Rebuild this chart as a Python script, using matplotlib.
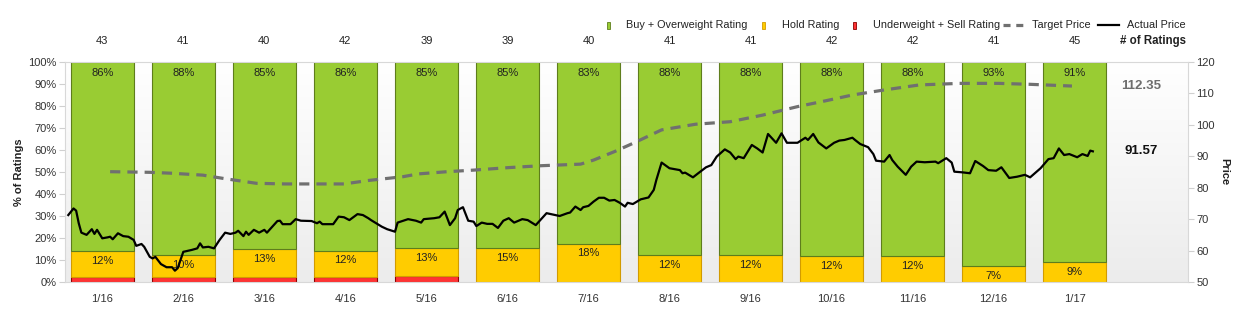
import numpy as np
import pandas as pd
import matplotlib
matplotlib.use("Agg")
import matplotlib.pyplot as plt
from matplotlib.patches import Rectangle
from matplotlib.lines import Line2D
from matplotlib.transforms import blended_transform_factory

plt.rcParams['font.family'] = ['Liberation Sans', 'DejaVu Sans']

months = ['1/16', '2/16', '3/16', '4/16', '5/16', '6/16', '7/16',
          '8/16', '9/16', '10/16', '11/16', '12/16', '1/17']
num_ratings = [43, 41, 40, 42, 39, 39, 40, 41, 41, 42, 42, 41, 45]
buy_count = [37, 36, 34, 36, 33, 33, 33, 36, 36, 37, 37, 38, 41]
hold_count = [5, 4, 5, 5, 5, 6, 7, 5, 5, 5, 5, 3, 4]
sell_count = [1, 1, 1, 1, 1, 0, 0, 0, 0, 0, 0, 0, 0]

price_dates = [
    '2016-01-03', '2016-01-05', '2016-01-06', '2016-01-07', '2016-01-08', '2016-01-10',
    '2016-01-12', '2016-01-13', '2016-01-14', '2016-01-16', '2016-01-18', '2016-01-19',
    '2016-01-20', '2016-01-22', '2016-01-24', '2016-01-26', '2016-01-28', '2016-01-29',
    '2016-01-31', '2016-02-01', '2016-02-03', '2016-02-04', '2016-02-05', '2016-02-07',
    '2016-02-09', '2016-02-11', '2016-02-12', '2016-02-13', '2016-02-15', '2016-02-18',
    '2016-02-20', '2016-02-21', '2016-02-22', '2016-02-24', '2016-02-26', '2016-02-28',
    '2016-03-01', '2016-03-03', '2016-03-05', '2016-03-06', '2016-03-08', '2016-03-09',
    '2016-03-10', '2016-03-12', '2016-03-14', '2016-03-16', '2016-03-17', '2016-03-21',
    '2016-03-22', '2016-03-23', '2016-03-26', '2016-03-28', '2016-03-30', '2016-04-03',
    '2016-04-05', '2016-04-06', '2016-04-07', '2016-04-11', '2016-04-13', '2016-04-15',
    '2016-04-17', '2016-04-20', '2016-04-22', '2016-04-24', '2016-04-25', '2016-04-29',
    '2016-05-01', '2016-05-04', '2016-05-05', '2016-05-09', '2016-05-12', '2016-05-14',
    '2016-05-15', '2016-05-19', '2016-05-21', '2016-05-23', '2016-05-24', '2016-05-25',
    '2016-05-27', '2016-05-28', '2016-05-30', '2016-06-01', '2016-06-03', '2016-06-04',
    '2016-06-06', '2016-06-08', '2016-06-10', '2016-06-12', '2016-06-14', '2016-06-16',
    '2016-06-18', '2016-06-21', '2016-06-23', '2016-06-26', '2016-06-30', '2016-07-05',
    '2016-07-08', '2016-07-09', '2016-07-11', '2016-07-13', '2016-07-14', '2016-07-16',
    '2016-07-18', '2016-07-20', '2016-07-22', '2016-07-24', '2016-07-26', '2016-07-28',
    '2016-07-30', '2016-07-31', '2016-08-02', '2016-08-05', '2016-08-08', '2016-08-10',
    '2016-08-11', '2016-08-13', '2016-08-16', '2016-08-20', '2016-08-21', '2016-08-22',
    '2016-08-25', '2016-08-27', '2016-08-30', '2016-09-01', '2016-09-03', '2016-09-06',
    '2016-09-08', '2016-09-10', '2016-09-11', '2016-09-13', '2016-09-16', '2016-09-18',
    '2016-09-20', '2016-09-22', '2016-09-25', '2016-09-27', '2016-09-29', '2016-10-03',
    '2016-10-06', '2016-10-07', '2016-10-09', '2016-10-11', '2016-10-14', '2016-10-17',
    '2016-10-19', '2016-10-21', '2016-10-24', '2016-10-25', '2016-10-27', '2016-10-30',
    '2016-11-01', '2016-11-02', '2016-11-05', '2016-11-07', '2016-11-08', '2016-11-10',
    '2016-11-13', '2016-11-15', '2016-11-17', '2016-11-20', '2016-11-24', '2016-11-25',
    '2016-11-28', '2016-11-30', '2016-12-01', '2016-12-04', '2016-12-07', '2016-12-09',
    '2016-12-12', '2016-12-14', '2016-12-17', '2016-12-19', '2016-12-22', '2016-12-25',
    '2016-12-28', '2016-12-30', '2017-01-03', '2017-01-06', '2017-01-08', '2017-01-10',
    '2017-01-12', '2017-01-14', '2017-01-17', '2017-01-19', '2017-01-21', '2017-01-22',
    '2017-01-23',
]
actual_price = [
    71.3, 73.4, 72.7, 68.7, 65.7, 65.0, 66.8, 65.3, 66.6, 63.9, 64.2, 64.4,
    63.6, 65.5, 64.6, 64.4, 63.4, 61.5, 62.1, 61.2, 58.0, 57.5, 58.0, 55.7,
    54.7, 54.7, 53.6, 54.4, 59.6, 60.2, 60.7, 62.3, 61.0, 61.2, 60.7, 63.4,
    65.7, 65.3, 65.7, 66.3, 64.6, 66.0, 65.0, 66.6, 65.7, 66.6, 65.7, 69.4,
    69.5, 68.4, 68.4, 70.0, 69.5, 69.4, 68.7, 69.2, 68.4, 68.4, 70.8, 70.6,
    69.7, 71.6, 71.3, 70.3, 69.7, 67.6, 66.8, 66.0, 68.9, 70.0, 69.5, 68.9,
    70.0, 70.3, 70.6, 72.4, 70.3, 68.1, 70.3, 72.9, 73.8, 69.5, 69.2, 67.8,
    68.9, 68.5, 68.5, 67.2, 69.5, 70.3, 68.9, 70.0, 69.7, 68.1, 71.9, 71.0,
    71.9, 72.1, 74.0, 72.9, 73.8, 74.2, 75.6, 76.8, 76.8, 75.9, 76.1, 75.2,
    74.0, 75.2, 74.8, 76.3, 76.9, 79.3, 82.5, 88.0, 86.2, 85.6, 84.6, 84.8,
    83.3, 84.6, 86.5, 87.2, 89.9, 92.2, 91.2, 89.1, 89.9, 89.4, 93.6, 92.5,
    91.2, 97.1, 94.3, 97.3, 94.3, 94.3, 95.9, 95.2, 97.1, 94.4, 92.5, 94.3,
    95.0, 95.2, 95.9, 95.2, 93.9, 92.9, 90.7, 88.6, 88.3, 90.4, 88.8, 86.7,
    84.1, 86.7, 88.3, 88.1, 88.3, 87.8, 89.4, 88.0, 85.1, 84.9, 84.6, 88.5,
    86.9, 85.6, 85.4, 86.5, 83.1, 83.5, 84.1, 83.3, 86.2, 89.1, 89.4, 92.5,
    90.4, 90.7, 89.7, 90.7, 90.1, 91.8, 91.57,
]

target_dates = [
    '2016-01-19', '2016-02-03', '2016-02-11', '2016-02-22', '2016-02-29', '2016-03-13',
    '2016-03-24', '2016-04-06', '2016-04-15', '2016-04-24', '2016-05-07', '2016-05-13',
    '2016-05-24', '2016-06-03', '2016-06-16', '2016-06-28', '2016-07-13', '2016-07-18',
    '2016-07-26', '2016-08-02', '2016-08-13', '2016-08-26', '2016-09-08', '2016-09-20',
    '2016-10-03', '2016-10-14', '2016-10-24', '2016-11-05', '2016-11-18', '2016-12-03',
    '2016-12-18', '2016-12-30', '2017-01-15',
]
target_price = [
    85.1, 84.9, 84.6, 84.0, 83.0, 81.4, 81.2, 81.2, 81.2, 82.3, 83.5, 84.4,
    85.1, 85.6, 86.4, 87.0, 87.5, 88.8, 91.5, 94.1, 98.4, 100.2, 101.0, 103.1,
    105.8, 107.7, 109.5, 111.1, 112.7, 113.2, 113.2, 112.9, 112.35,
]

GREEN, GREEN_EDGE = '#99cc33', '#5e7d1c'
YELLOW, YELLOW_EDGE = '#ffcc00', '#d29b00'
RED, RED_EDGE = '#ff3333', '#8b0000'
W, H = 1244, 321
FS = 8.0
LEG_FS = 7.8


def month_pos(dates):
    # position on the monthly axis: bar k is centred in the middle of month k
    d = pd.to_datetime(pd.Series(dates))
    k = (d.dt.year - 2016) * 12 + d.dt.month - 1
    return (k - 0.5 + (d.dt.day - 0.5) / d.dt.days_in_month).to_numpy()


def pct(part, total):
    return np.floor(100.0 * part / total + 0.5).astype(int)


total = np.array(num_ratings, dtype=float)
buy_p = 100 * np.array(buy_count) / total
hold_p = 100 * np.array(hold_count) / total
sell_p = 100 * np.array(sell_count) / total
x = np.arange(len(months))

fig = plt.figure(figsize=(W / 100, H / 100), dpi=100)
ax = fig.add_axes([65 / W, 1 - 282 / H, (1188 - 65) / W, 220 / H])
ax.set_xlim(-0.46, 13.4)
ax.set_ylim(0, 100)

# light vertical gradient behind everything
grad = np.linspace(0, 1, 256).reshape(-1, 1)
ax.imshow(grad, extent=[-0.46, 13.4, 0, 100], aspect='auto', origin='upper',
          cmap=matplotlib.colors.LinearSegmentedColormap.from_list('bg', ['#ffffff', '#ececec']),
          zorder=0)

bw = 0.78
ax.bar(x, sell_p, bw, color=RED, edgecolor=RED_EDGE, linewidth=0.8, zorder=2)
ax.bar(x, hold_p, bw, bottom=sell_p, color=YELLOW, edgecolor=YELLOW_EDGE, linewidth=0.8, zorder=2)
ax.bar(x, buy_p, bw, bottom=sell_p + hold_p, color=GREEN, edgecolor=GREEN_EDGE, linewidth=0.8, zorder=2)

for i in range(len(months)):
    ax.annotate(f'{pct(buy_count[i], total[i])}%', (x[i], 100), xytext=(0, -4),
                textcoords='offset points', ha='center', va='top', fontsize=FS,
                color='#222222', zorder=5)
    ax.annotate(f'{pct(hold_count[i], total[i])}%', (x[i], sell_p[i] + hold_p[i]),
                xytext=(0, -3.5), textcoords='offset points', ha='center', va='top',
                fontsize=FS, color='#222222', zorder=5)

ax.set_xticks(x)
ax.set_xticklabels(months)
ax.set_yticks(np.arange(0, 101, 10))
ax.set_yticklabels([f'{v}%' for v in range(0, 101, 10)])
ax.tick_params(axis='x', length=0, pad=9, labelsize=FS, colors='#333333')
ax.tick_params(axis='y', length=4, width=0.8, color='#d0d0d0', labelsize=FS,
               labelcolor='#333333', pad=2)
for s in ['left', 'bottom', 'top']:
    ax.spines[s].set_color('#d8d8d8')
ax.spines['right'].set_visible(False)
ax.set_ylabel('% of Ratings', fontsize=FS, fontweight='bold', color='#222222', labelpad=3)

ax2 = ax.twinx()
ax2.set_ylim(50, 120)
ax2.set_yticks(np.arange(50, 121, 10))
ax2.plot(month_pos(target_dates), target_price, color='#707070', lw=2.3,
         dashes=(3.2, 2.2), zorder=3)
ax2.plot(month_pos(price_dates), actual_price, color='black', lw=1.6, zorder=4)
ax2.tick_params(axis='y', length=4, width=0.8, color='#d0d0d0', labelsize=FS,
                labelcolor='#333333', pad=2)
for s in ['left', 'bottom', 'top', 'right']:
    ax2.spines[s].set_visible(False)
ax2.spines['right'].set_visible(True)
ax2.spines['right'].set_color('#d8d8d8')
ax2.set_ylabel('Price', fontsize=FS, fontweight='bold', color='#222222',
               rotation=-90, labelpad=10)

# latest target / actual price
ax2.text(12.58, target_price[-1], f'{target_price[-1]:.2f}', fontsize=9.5,
         fontweight='bold', color='#6e6e6e', ha='left', va='center')
ax2.text(12.62, actual_price[-1], f'{actual_price[-1]:.2f}', fontsize=9.5,
         fontweight='bold', color='#111111', ha='left', va='center')

# rating counts above each bar
tr = blended_transform_factory(ax.transData, fig.transFigure)
for i, n in enumerate(num_ratings):
    ax.text(x[i], 1 - 41 / H, str(n), transform=tr, ha='center', va='center',
            fontsize=FS, color='#222222')
fig.text(1186 / W, 1 - 41 / H, '# of Ratings', ha='right', va='center',
         fontsize=8.3, fontweight='bold', color='#222222')

# legend row
ly = 1 - 25 / H
for cx, fc, ec, label, tx in [(608, GREEN, GREEN_EDGE, 'Buy + Overweight Rating', 626),
                              (763, YELLOW, YELLOW_EDGE, 'Hold Rating', 782),
                              (855, RED, RED_EDGE, 'Underweight + Sell Rating', 873)]:
    fig.add_artist(Rectangle(((cx - 1.5) / W, ly - 3.5 / H), 3 / W, 7 / H,
                             transform=fig.transFigure, facecolor=fc, edgecolor=ec, lw=0.6))
    fig.text(tx / W, ly, label, ha='left', va='center', fontsize=LEG_FS, color='#222222')
fig.add_artist(Line2D([1003 / W, 1024 / W], [ly, ly], transform=fig.transFigure,
                      color='#707070', lw=2.3, dashes=(2.2, 1.8)))
fig.text(1032 / W, ly, 'Target Price', ha='left', va='center', fontsize=LEG_FS, color='#222222')
fig.add_artist(Line2D([1098 / W, 1119 / W], [ly, ly], transform=fig.transFigure,
                      color='black', lw=1.6))
fig.text(1127 / W, ly, 'Actual Price', ha='left', va='center', fontsize=LEG_FS, color='#222222')

fig.savefig('out.png', dpi=100)
